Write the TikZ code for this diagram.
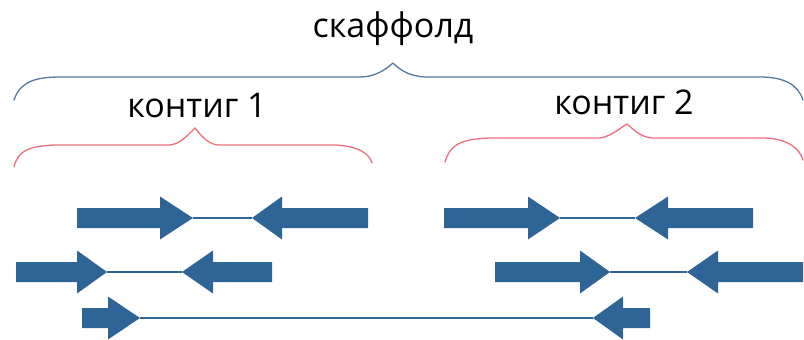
\documentclass[tikz,border=0pt]{standalone}
\usepackage{fontspec}
\setmainfont{Open Sans}
\definecolor{arrblue}{RGB}{47,100,150}
\definecolor{braceblue}{RGB}{85,120,155}
\definecolor{bracered}{RGB}{240,110,125}
\newcommand{\rarrow}[4]{% x0, xbase, xtip, y
  \fill[arrblue] (#1,#4-10) -- (#2,#4-10) -- (#2,#4-21.5) -- (#3,#4) -- (#2,#4+21.5) -- (#2,#4+10) -- (#1,#4+10) -- cycle;}
\newcommand{\larrow}[4]{% xtip, xbase, x1, y
  \fill[arrblue] (#3,#4-10) -- (#2,#4-10) -- (#2,#4-21.5) -- (#1,#4) -- (#2,#4+21.5) -- (#2,#4+10) -- (#3,#4+10) -- cycle;}
\tikzset{
  lbl/.style={font=\fontsize{34}{38}\selectfont, anchor=base, inner sep=0pt},
  bigbrace/.style={draw=braceblue, line width=1.3pt, line cap=round, line join=round},
  redbrace/.style={draw=bracered, line width=1.3pt, line cap=round, line join=round},
  link/.style={draw=arrblue, line width=2pt}
}
\begin{document}
\begin{tikzpicture}[x=1pt,y=-1pt]
\useasboundingbox (0,0) rectangle (804,340);
% labels
\node[lbl] (scaf) at (393,37) {скаффолд};
\node[lbl] (c1) at (197,117) {контиг 1};
\node[lbl] (c2) at (624,114) {контиг 2};
% big brace
\draw[bigbrace] (14,100) .. controls (20,82) and (35,77) .. (60,77) -- (360,77)
  .. controls (375,77) and (385,70) .. (393,63) .. controls (400,70) and (410,77) .. (428,77)
  -- (760,77) .. controls (785,77) and (798,85) .. (803,100);
% red braces
\draw[redbrace] (14,167) .. controls (18,150) and (30,146) .. (55,145) -- (170,145)
  .. controls (180,144) and (188,135) .. (195,128) .. controls (200,134) and (207,144) .. (218,145)
  -- (335,145) .. controls (360,146) and (370,155) .. (372,163);
\draw[redbrace] (445,162) .. controls (450,145) and (460,139) .. (490,138) -- (600,138)
  .. controls (612,136) and (620,128) .. (627,124) .. controls (633,129) and (640,137) .. (652,138)
  -- (765,138) .. controls (790,139) and (800,150) .. (803,160);
% read pairs, contig 1
\coordinate (a1) at (193,218); \coordinate (b1) at (252,218);
\draw[link] (a1) -- (b1);
\rarrow{77}{160}{193}{218}
\larrow{252}{282}{368}{218}
\coordinate (a2) at (107,272); \coordinate (b2) at (182,272);
\draw[link] (a2) -- (b2);
\rarrow{16}{77}{107}{272}
\larrow{182}{213}{272}{272}
% spanning pair
\coordinate (a3) at (140,318); \coordinate (b3) at (593,318);
\draw[link] (a3) -- (b3);
\rarrow{82}{108}{140}{318}
\larrow{593}{623}{650}{318}
% read pairs, contig 2
\coordinate (a4) at (560,218); \coordinate (b4) at (635,218);
\draw[link] (a4) -- (b4);
\rarrow{444}{528}{560}{218}
\larrow{635}{668}{753}{218}
\coordinate (a5) at (610,272); \coordinate (b5) at (687,272);
\draw[link] (a5) -- (b5);
\rarrow{495}{580}{610}{272}
\larrow{687}{718}{803}{272}
\end{tikzpicture}
\end{document}
